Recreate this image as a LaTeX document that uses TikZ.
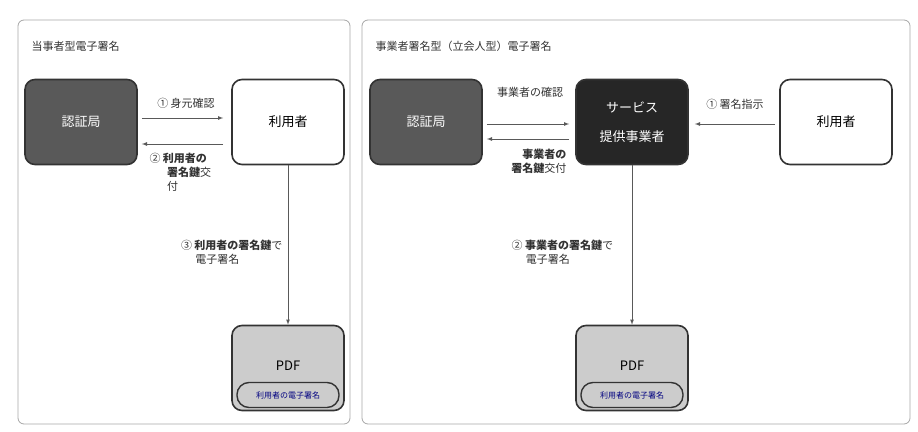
\documentclass[tikz,border=0pt]{standalone}
\usepackage{fontspec}
\setmainfont{Noto Sans CJK JP}
\begin{document}
\begin{tikzpicture}[x=1pt,y=-1pt,
  panel/.style={draw=gray!70,rounded corners=6pt,line width=0.8pt},
  box/.style={draw=black!80,line width=1.6pt,rounded corners=10pt,minimum width=112pt,minimum height=85pt,font=\fontsize{13}{15}\selectfont},
  cabox/.style={box,fill=black!65,text=white},
  svcbox/.style={box,fill=black!85,text=white,align=center},
  userbox/.style={box,fill=white},
  pdfbox/.style={box,fill=black!20},
  sig/.style={draw=black!80,line width=1.4pt,rounded corners=12pt,fill=black!20,minimum width=102pt,minimum height=25pt,text=blue!50!black,font=\fontsize{8}{9}\selectfont},
  lbl/.style={font=\fontsize{11}{14}\selectfont,text=black!80},
  flow/.style={draw=black!65,line width=0.8pt,-latex}]
  \useasboundingbox (0,0) rectangle (918,431);
  % panels
  \draw[panel] (18,20) rectangle (350,424);
  \draw[panel] (362,20) rectangle (910,424);
  \node[lbl,anchor=west] (ttlA) at (28,46) {当事者型電子署名};
  \node[lbl,anchor=west] (ttlB) at (372,46) {事業者署名型（立会人型）電子署名};
  % left
  \node[cabox] (caA) at (81,122) {認証局};
  \node[userbox] (userA) at (288,122) {利用者};
  \node[pdfbox] (pdfA) at (288,368) {};
  \node[font=\fontsize{13}{15}\selectfont] (pdfAt) at (288,366) {PDF};
  \node[sig] (sigA) at (288,395) {利用者の電子署名};
  \draw[flow] ([yshift=4,xshift=4]caA.east) -- ([yshift=4,xshift=-8]userA.west);
  \node[lbl] at (186,103) {① 身元確認};
  \draw[flow] ([yshift=-22,xshift=-8]userA.west) -- ([yshift=-22,xshift=4]caA.east);
  \node[lbl,align=left,anchor=north west] at (146,150) {② \textbf{利用者の}\\\hspace{1.6em}\textbf{署名鍵}交\\\hspace{1.6em}付};
  \draw[flow] (userA.south) -- (pdfA.north);
  \node[lbl,align=left,anchor=north east] at (286,236) {③ \textbf{利用者の署名鍵}で\\\hspace{1.3em}電子署名};
  % right
  \node[cabox] (caB) at (426,122) {認証局};
  \node[svcbox] (svc) at (632,122) {サービス\\[14pt]提供事業者};
  \node[userbox] (userB) at (836,122) {利用者};
  \node[pdfbox] (pdfB) at (632,368) {};
  \node[font=\fontsize{13}{15}\selectfont] (pdfBt) at (632,366) {PDF};
  \node[sig] (sigB) at (632,395) {利用者の電子署名};
  \draw[flow] ([yshift=-2,xshift=4]caB.east) -- ([yshift=-2,xshift=-6]svc.west);
  \node[lbl] at (530,92) {事業者の確認};
  \draw[flow] ([yshift=-17,xshift=-6]svc.west) -- ([yshift=-17,xshift=4]caB.east);
  \node[lbl,align=right,anchor=north east] at (570,146) {\textbf{事業者の}\\\textbf{署名鍵}交付};
  \draw[flow] ([yshift=-2,xshift=-4]userB.west) -- ([yshift=-2,xshift=6]svc.east);
  \node[lbl] at (735,104) {① 署名指示};
  \draw[flow] (svc.south) -- (pdfB.north);
  \node[lbl,align=left,anchor=north west] at (508,236) {② \textbf{事業者の署名鍵}で\\\hspace{1.3em}電子署名};
\end{tikzpicture}
\end{document}
